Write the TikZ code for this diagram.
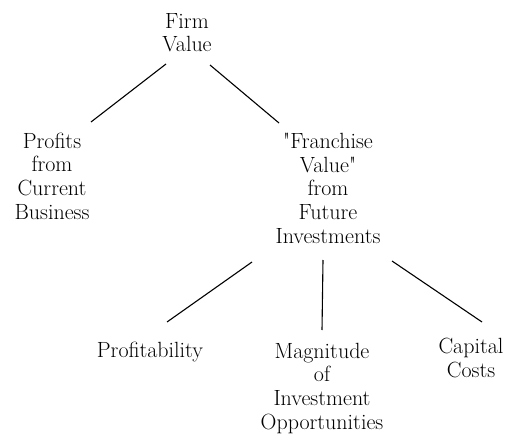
\documentclass[tikz,border=0pt]{standalone}
\begin{document}
\begin{tikzpicture}[x=1pt,y=-1pt,
  lbl/.style={inner sep=0pt, align=center, anchor=base, font=\fontsize{22}{23.6}\selectfont},
  conn/.style={line width=1.1pt, black}]
\useasboundingbox (0,0) rectangle (526,435);
% anchor=base is the baseline of the last line
\node[lbl] (fv) at (187,52) {Firm\\Value};
\node[lbl] (pc) at (52,219) {Profits\\from\\Current\\Business};
\node[lbl] (fr) at (328,243) {\textquotedbl Franchise\\Value\textquotedbl\\from\\Future\\Investments};
\node[lbl] (pf) at (150,357) {Profitability};
\node[lbl] (mg) at (322,429) {Magnitude\\of\\Investment\\Opportunities};
\node[lbl] (cc) at (471,377) {Capital\\Costs};
\draw[conn] ([shift={(-21,12)}]fv.base) -- ([shift={(39,-97)}]pc.base);
\draw[conn] ([shift={(23,13)}]fv.base) -- ([shift={(-49,-120)}]fr.base);
\draw[conn] ([shift={(-76,19)}]fr.base) -- ([shift={(17,-35)}]pf.base);
\draw[conn] ([shift={(-5,17)}]fr.base) -- ([shift={(0,-99)}]mg.base);
\draw[conn] ([shift={(64,18)}]fr.base) -- ([shift={(11,-55)}]cc.base);
\end{tikzpicture}
\end{document}
